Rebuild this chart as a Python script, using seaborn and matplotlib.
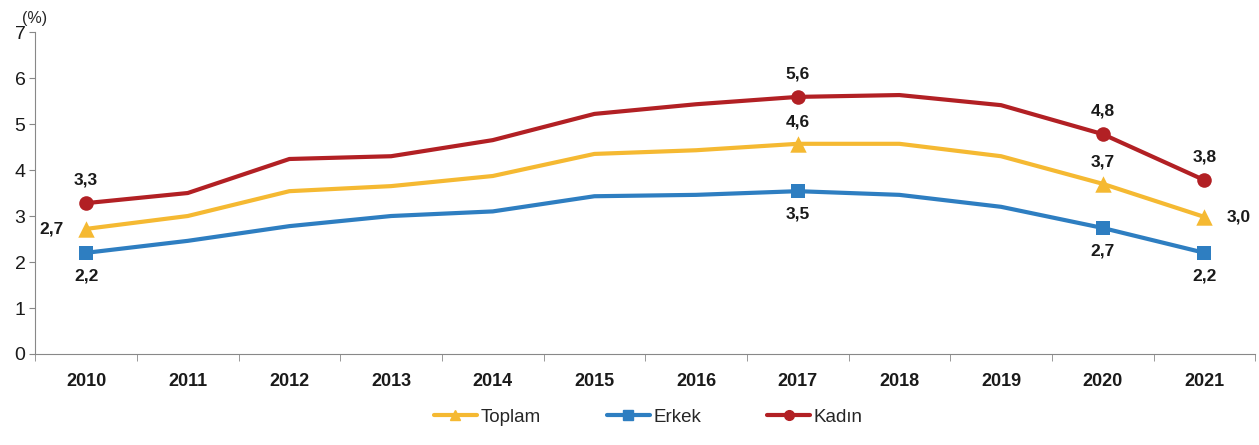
import matplotlib
matplotlib.use("Agg")
import matplotlib.pyplot as plt
import seaborn as sns
import pandas as pd

# Veriler
years = ["2010", "2011", "2012", "2013", "2014", "2015", "2016", "2017", "2018", "2019", "2020", "2021"]
toplam = [2.72, 3.0, 3.54, 3.65, 3.87, 4.35, 4.43, 4.57, 4.57, 4.3, 3.7, 2.98]
erkek = [2.2, 2.46, 2.78, 3.0, 3.1, 3.43, 3.46, 3.54, 3.46, 3.2, 2.74, 2.2]
kadin = [3.28, 3.5, 4.24, 4.3, 4.65, 5.22, 5.43, 5.59, 5.63, 5.41, 4.78, 3.78]

series_names = ["Toplam", "Erkek", "Kadın"]
colors = {"Toplam": "#F5B932", "Erkek": "#2E7EC1", "Kadın": "#B22024"}
markers = {"Toplam": "^", "Erkek": "s", "Kadın": "o"}

# etiketler: (yıl indeksi, metin)
labels_toplam = {0: "2,7", 7: "4,6", 10: "3,7", 11: "3,0"}
labels_erkek = {0: "2,2", 7: "3,5", 10: "2,7", 11: "2,2"}
labels_kadin = {0: "3,3", 7: "5,6", 10: "4,8", 11: "3,8"}

df = pd.DataFrame({
    "year": years * 3,
    "value": toplam + erkek + kadin,
    "series": [s for s in series_names for _ in years],
})
df["x"] = [i for _ in series_names for i in range(len(years))]

sns.set_style("white")
plt.rcParams["font.family"] = ["Liberation Sans", "DejaVu Sans"]

fig = plt.figure(figsize=(12.59, 4.45), dpi=100)
ax = fig.add_axes([0.028, 0.2045, 0.969, 0.7235])

for name in series_names:
    sub = df[df["series"] == name]
    sns.lineplot(data=sub, x="x", y="value", ax=ax, color=colors[name], linewidth=3,
                 label=name, legend=False)

# sadece etiketli noktalara işaret koy
label_sets = {"Toplam": labels_toplam, "Erkek": labels_erkek, "Kadın": labels_kadin}
vals = {"Toplam": toplam, "Erkek": erkek, "Kadın": kadin}
for name in series_names:
    idx = list(label_sets[name].keys())
    ax.scatter(idx, [vals[name][i] for i in idx], marker=markers[name], color=colors[name],
               s=110 if name != "Toplam" else 140, zorder=5, linewidths=0)

# değer etiketleri
offsets_toplam = {0: (-16, 0, "right", "center"), 7: (0, 10, "center", "bottom"),
                  10: (0, 10, "center", "bottom"), 11: (16, 0, "left", "center")}
for i, t in labels_toplam.items():
    dx, dy, ha, va = offsets_toplam[i]
    ax.annotate(t, (i, toplam[i]), xytext=(dx, dy), textcoords="offset points",
                ha=ha, va=va, fontsize=12.5, fontweight="bold", color="#1a1a1a")
for i, t in labels_kadin.items():
    ax.annotate(t, (i, kadin[i]), xytext=(0, 11), textcoords="offset points",
                ha="center", va="bottom", fontsize=12.5, fontweight="bold", color="#1a1a1a")
for i, t in labels_erkek.items():
    ax.annotate(t, (i, erkek[i]), xytext=(0, -11), textcoords="offset points",
                ha="center", va="top", fontsize=12.5, fontweight="bold", color="#1a1a1a")

ax.set_xlim(-0.5, len(years) - 0.5)
ax.set_ylim(0, 7)
ax.set_yticks(range(0, 8))
ax.set_xticks([i for i in range(len(years))])
ax.set_xticklabels(years, fontsize=13, fontweight="bold", color="#1a1a1a")
ax.set_xticks([i - 0.5 for i in range(len(years) + 1)], minor=True)
ax.tick_params(axis="x", which="major", length=0, pad=14)
ax.tick_params(axis="x", which="minor", bottom=True, length=5, color="#888888", direction="out")
ax.tick_params(axis="y", left=True, length=4, color="#888888", direction="out", labelsize=14, pad=3)
for lbl in ax.get_yticklabels():
    lbl.set_color("#1a1a1a")
ax.set_xlabel("")
ax.set_ylabel("")
ax.spines["top"].set_visible(False)
ax.spines["right"].set_visible(False)
ax.spines["left"].set_color("#888888")
ax.spines["bottom"].set_color("#888888")
ax.text(-0.011, 1.02, "(%)", transform=ax.transAxes, fontsize=11.5, ha="left", va="bottom")

handles = [plt.Line2D([], [], color=colors[n], marker=markers[n], linewidth=3, markersize=7)
           for n in series_names]
fig.legend(handles, series_names, loc="lower center", bbox_to_anchor=(0.515, 0.005), ncol=3,
           frameon=False, fontsize=13.5, handlelength=2.3, columnspacing=3.5, handletextpad=0.2)

fig.savefig("out.png", dpi=100)
